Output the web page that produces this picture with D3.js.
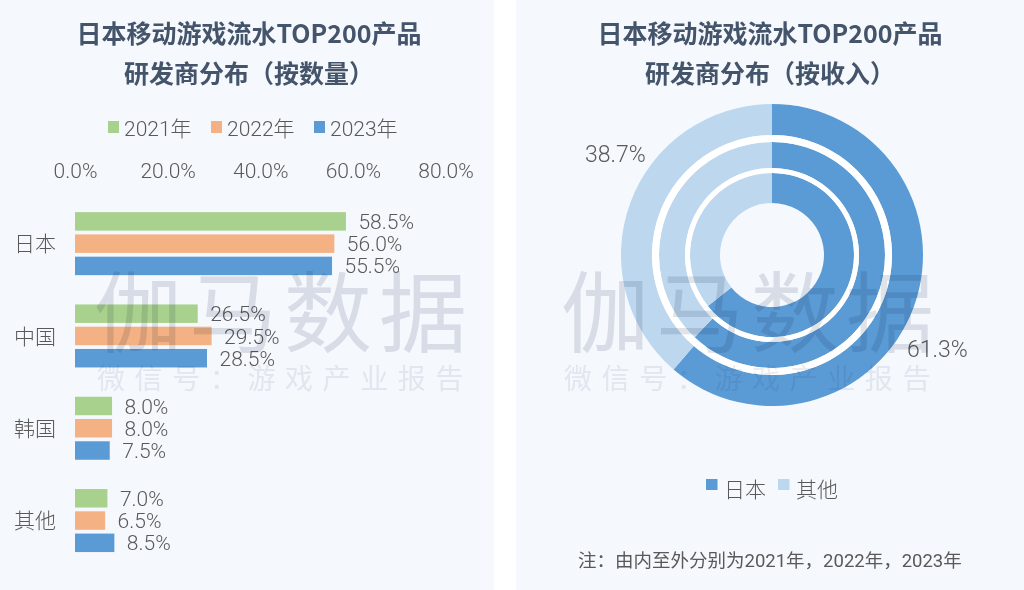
<!DOCTYPE html>
<head>
    <meta charset="utf-8">
    <script src="https://d3js.org/d3.v7.min.js"></script>
    <style>
        html, body { padding: 0; margin: 0; background: #fff; overflow: hidden; }
        svg { display: block; }
        text { font-family: Roboto, "Noto Sans CJK SC", sans-serif; font-weight: 300; fill: #595959; }
        .title { font-family: "Noto Sans CJK SC", sans-serif; font-size: 25px; font-weight: 700; fill: #44546a; text-anchor: middle; }
        .axis path, .axis line { display: none; }
        .axis text { font-size: 21px; fill: #595959; }
        .mark { font-family: "Noto Sans CJK SC", sans-serif; font-weight: 400; mix-blend-mode: multiply; }
    </style>
</head>

<body>
<svg width="1024" height="590"></svg>
<script>
    var categories = ["日本", "中国", "韩国", "其他"];
    var years = ["2021年", "2022年", "2023年"];
    var shares2021 = [58.5, 26.5, 8.0, 7.0];
    var shares2022 = [56.0, 29.5, 8.0, 6.5];
    var shares2023 = [55.5, 28.5, 7.5, 8.5];
    var xTicks = [0, 20, 40, 60, 80];

    var donutNames = ["日本", "其他"];
    var revenue2021 = [64.3, 35.7];
    var revenue2022 = [62.0, 38.0];
    var revenue2023 = [61.3, 38.7];

    var titleLeft = ["日本移动游戏流水TOP200产品", "研发商分布（按数量）"];
    var titleRight = ["日本移动游戏流水TOP200产品", "研发商分布（按收入）"];
    var note = "注：由内至外分别为2021年，2022年，2023年";
    var markMain = "伽马数据";
    var markSub = "微信号：游戏产业报告";

    var barColor = d3.scaleOrdinal().domain(years).range(["#a9d18e", "#f4b183", "#5b9bd5"]);
    var ringColor = d3.scaleOrdinal().domain(donutNames).range(["#5b9bd5", "#bdd7ee"]);

    var svg = d3.select("svg");

    // panels
    svg.append("rect").attr("x", 0).attr("y", 0).attr("width", 494).attr("height", 590).attr("fill", "#f5f8fd");
    svg.append("rect").attr("x", 516).attr("y", 0).attr("width", 508).attr("height", 590).attr("fill", "#f5f8fd");

    function addTitle(lines, cx) {
        svg.selectAll(null)
            .data(lines)
            .enter()
            .append("text")
            .attr("class", "title")
            .attr("x", cx)
            .attr("y", function(d, i) { return 43 + i * 39.5; })
            .text(function(d) { return d; });
    }
    addTitle(titleLeft, 249);
    addTitle(titleRight, 770);

    // bar chart
    var xRange = d3.scaleLinear().domain([0, 80]).range([75, 445.5]);
    var yRange = d3.scaleBand().domain(categories).range([197.5, 566.7]);
    var yInner = d3.scaleBand().domain(years).range([-31.5, 31.5]).paddingInner(0.17);

    svg.append("g")
        .attr("class", "axis")
        .attr("transform", "translate(0,178)")
        .call(d3.axisTop(xRange).tickValues(xTicks).tickSize(0).tickPadding(0).tickFormat(function(d) { return d.toFixed(1) + "%"; }));

    svg.append("g")
        .attr("class", "axis")
        .attr("transform", "translate(62,1)")
        .call(d3.axisLeft(yRange).tickSize(0).tickPadding(6));

    var rows = [shares2021, shares2022, shares2023];
    years.forEach(function(year, s) {
        var group = svg.append("g");
        group.selectAll("rect")
            .data(rows[s])
            .enter()
            .append("rect")
            .attr("x", xRange(0))
            .attr("y", function(d, i) { return yRange(categories[i]) + yRange.bandwidth() / 2 + yInner(year); })
            .attr("width", function(d) { return xRange(d) - xRange(0); })
            .attr("height", yInner.bandwidth())
            .attr("fill", barColor(year));
        group.selectAll("text")
            .data(rows[s])
            .enter()
            .append("text")
            .attr("x", function(d) { return xRange(d) + 12.5; })
            .attr("y", function(d, i) { return yRange(categories[i]) + yRange.bandwidth() / 2 + yInner(year) + yInner.bandwidth() / 2; })
            .attr("dy", "0.36em")
            .style("font-size", "21px")
            .text(function(d) { return d.toFixed(1) + "%"; });
    });

    // bar legend
    var legendX = d3.scalePoint().domain(years).range([108, 314]);
    var legend = svg.selectAll(".barLegend")
        .data(years)
        .enter()
        .append("g")
        .attr("class", "barLegend")
        .attr("transform", function(d) { return "translate(" + legendX(d) + ",128.5)"; });
    legend.append("rect")
        .attr("y", -7.5).attr("width", 11).attr("height", 12)
        .attr("fill", function(d) { return barColor(d); });
    legend.append("text")
        .attr("x", 16).attr("dy", "0.36em")
        .style("font-size", "21px")
        .text(function(d) { return d; });

    // donut
    var donut = svg.append("g").attr("transform", "translate(772,255)");
    var pie = d3.pie().sort(null);
    var rings = [
        {values: revenue2021, inner: 52, outer: 82},
        {values: revenue2022, inner: 87, outer: 113},
        {values: revenue2023, inner: 120, outer: 151}
    ];
    rings.forEach(function(ring) {
        var arc = d3.arc().innerRadius(ring.inner).outerRadius(ring.outer);
        donut.append("g")
            .selectAll("path")
            .data(pie(ring.values))
            .enter()
            .append("path")
            .attr("d", arc)
            .attr("fill", function(d, i) { return ringColor(donutNames[i]); });
    });
    var ringGap = [[82, 87], [113, 120]];
    ringGap.forEach(function(g) {
        donut.append("path")
            .attr("d", d3.arc().innerRadius(g[0]).outerRadius(g[1]).startAngle(0).endAngle(2 * Math.PI))
            .attr("fill", "#fff");
    });

    svg.append("text").attr("x", 585).attr("y", 162).style("font-size", "23px").text(revenue2023[1].toFixed(1) + "%");
    svg.append("text").attr("x", 907).attr("y", 357).style("font-size", "23px").text(revenue2023[0].toFixed(1) + "%");

    // donut legend
    var donutLegendX = d3.scalePoint().domain(donutNames).range([706, 778]);
    var legend2 = svg.selectAll(".donutLegend")
        .data(donutNames)
        .enter()
        .append("g")
        .attr("class", "donutLegend")
        .attr("transform", function(d) { return "translate(" + donutLegendX(d) + ",489.5)"; });
    legend2.append("rect")
        .attr("y", -10.5).attr("width", 11.5).attr("height", 11)
        .attr("fill", function(d) { return ringColor(d); });
    legend2.append("text")
        .attr("x", 18).attr("dy", "0.36em")
        .style("font-size", "21px")
        .text(function(d) { return d; });

    svg.append("text").attr("x", 578).attr("y", 566.5).style("font-size", "18.5px").style("font-weight", 400).text(note);

    // watermark
    [94, 561].forEach(function(left) {
        svg.append("text")
            .attr("class", "mark")
            .attr("x", left).attr("y", 345)
            .style("font-size", "88px")
            .style("letter-spacing", "7px")
            .style("fill", "#e0e3e8")
            .text(markMain);
        svg.append("text")
            .attr("class", "mark")
            .attr("x", left + 3).attr("y", 389)
            .style("font-size", "28px")
            .style("letter-spacing", "9.6px")
            .style("fill", "#ebedf1")
            .text(markSub);
    });
</script>
</body>
